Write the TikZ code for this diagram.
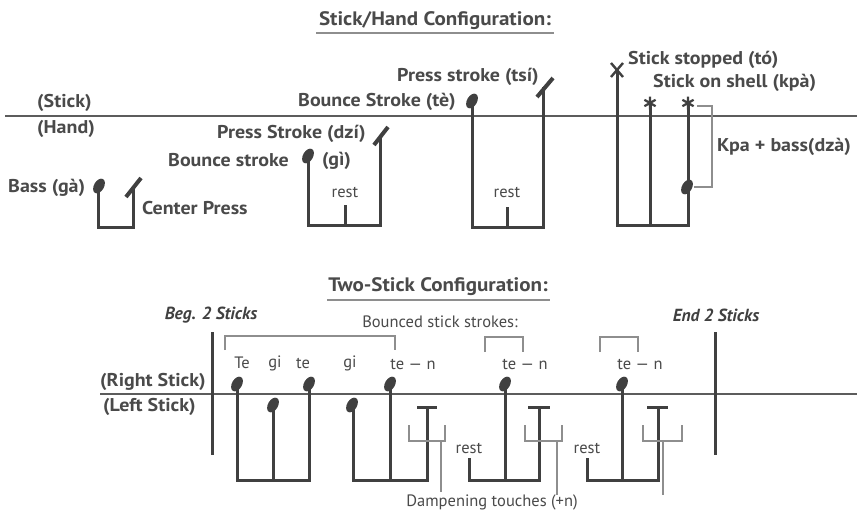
\documentclass[tikz,border=0pt]{standalone}
\usepackage{fontspec}
\setmainfont{PT Sans}
\newfontfamily\lblf{PT Sans}[FakeStretch=1.08]
\definecolor{ink}{HTML}{404040}
\definecolor{txt}{HTML}{4A4A4A}
\definecolor{rulec}{HTML}{5C5C5C}
\definecolor{thinc}{HTML}{8E8E8E}
\newcommand\nhd[1]{\fill[ink, rotate around={-30:#1}] #1 ellipse (5 and 8);}
\newcommand\astk[1]{\draw[ink, line width=2.2pt] #1 ++(0,-6.5) -- ++(0,13) #1 ++(-5.6,-3.2) -- ++(11.2,6.4) #1 ++(-5.6,3.2) -- ++(11.2,-6.4);}
\begin{document}
\begin{tikzpicture}[x=1pt,y=-1pt,
  stem/.style={draw=ink, line width=3pt},
  slash/.style={draw=ink, line width=4pt},
  staff/.style={draw=rulec, line width=2.4pt},
  thinline/.style={draw=thinc, line width=1.2pt},
  lbl/.style={text=txt, font=\fontsize{18.5}{18.5}\selectfont\lblf\bfseries, inner sep=0pt, anchor=west},
  sml/.style={text=txt, font=\fontsize{16.5}{16.5}\selectfont, inner sep=0pt},
  ttl/.style={text=txt, font=\fontsize{19.5}{19.5}\selectfont\lblf\bfseries, inner sep=0pt},
  bi/.style={text=ink, font=\fontsize{17.5}{17.5}\selectfont\bfseries\itshape, inner sep=0pt}]
\useasboundingbox (0,0) rectangle (857,511);
\fill[white] (0,0) rectangle (857,511);

% ---------- top section ----------
\node[ttl] (t1) at (435,21) {Stick/Hand Configuration:};
\draw[thinc, line width=1.6pt] (316,33) -- (554,33);
\draw[staff] (5,116) -- (857,116);
\node[lbl] (stick) at (37,103) {(Stick)};
\node[lbl] (hand) at (37,129) {(Hand)};

% bass / center press
\draw[stem] (98,188) -- (98,227) -- (133,227) -- (133,187);
\nhd{(99,186)}
\draw[slash] (126,197) -- (141,178);
\node[lbl] (bass) at (8,188) {Bass (gà)};
\node[lbl] (cpress) at (142,208) {Center Press};

% gi / dzi
\draw[stem] (308,158) -- (308,225) -- (380,225) -- (380,136);
\draw[stem] (345,225) -- (345,205);
\nhd{(308,156)}
\draw[slash] (374,145) -- (388,127);
\node[sml] (rest1) at (345,192) {rest};
\node[lbl] (bstroke) at (168,160) {Bounce stroke};
\node[lbl] (gi) at (322,161) {(gì)};
\node[lbl] (pstroke) at (217,134) {Press Stroke (dzí)};

% te / tsi
\draw[stem] (472,103) -- (472,227) -- (543,227) -- (543,87);
\draw[stem] (507,227) -- (507,207);
\nhd{(472,101)}
\draw[slash] (537,97) -- (553,78);
\node[sml] (rest2) at (507,192) {rest};
\node[lbl] (bstroke2) at (298,102) {Bounce Stroke (tè)};
\node[lbl] (pstroke2) at (397,77) {Press stroke (tsí)};

% to / kpa
\draw[stem] (617,70) -- (617,225) -- (688,225) -- (688,103);
\draw[stem] (650,103) -- (650,225);
\draw[ink, line width=2.4pt] (611,63) -- (623,77) (611,77) -- (623,63);
\astk{(650,103)}
\astk{(688,103)}
\nhd{(687,187)}
\draw[thinline] (697,106) -- (712,106) -- (712,187) -- (694,187);
\node[lbl] (stopped) at (628,60) {Stick stopped (tó)};
\node[lbl] (shell) at (653,83) {Stick on shell (kpà)};
\node[lbl] (kpabass) at (717,147) {Kpa + bass(dzà)};

% ---------- bottom section ----------
\node[ttl] (t2) at (438,287) {Two-Stick Configuration:};
\draw[thinc, line width=1.6pt] (327,300) -- (550,300);
\node[bi] (beg) at (211,315) {Beg. 2 Sticks};
\node[bi] (end) at (716,315) {End 2 Sticks};
\draw[staff] (100,394) -- (857,394);
\node[lbl] (rs) at (100,382) {(Right Stick)};
\node[lbl] (ls) at (103,407) {(Left Stick)};
\draw[stem] (212,332) -- (212,455);
\draw[stem] (715,332) -- (715,455);

\node[sml] (bounced) at (440,322) {Bounced stick strokes:};
\draw[thinline] (225,350) -- (225,336) -- (395,336) -- (395,350);
\draw[thinline] (485,352) -- (485,337) -- (523,337) -- (523,352);
\draw[thinline] (600,352) -- (600,337) -- (638,337) -- (638,352);

\node[sml] (l1) at (242,363) {Te};
\node[sml] (l2) at (275,363) {gi};
\node[sml] (l3) at (303,363) {te};
\node[sml] (l4) at (350,363) {gi};
\node[sml] (l5) at (413,364) {te — n};
\node[sml] (l6) at (525,364) {te — n};
\node[sml] (l7) at (640,364) {te — n};

% group A
\draw[stem] (237,386) -- (237,480) -- (309,480) -- (309,386);
\draw[stem] (273,407) -- (273,480);
\nhd{(237,384)} \nhd{(309,384)} \nhd{(273,405)}
% group B
\draw[stem] (353,407) -- (353,480) -- (427,480) -- (427,407);
\draw[stem] (390,386) -- (390,480);
\draw[stem] (417,407) -- (437,407);
\nhd{(352,405)} \nhd{(390,384)}
% group C
\draw[stem] (469,458) -- (469,480) -- (539,480) -- (539,407);
\draw[stem] (505,386) -- (505,480);
\draw[stem] (528,407) -- (550,407);
\nhd{(505,384)}
\node[sml] (rest3) at (469,448) {rest};
% group D
\draw[stem] (587,458) -- (587,480) -- (658,480) -- (658,407);
\draw[stem] (622,386) -- (622,480);
\draw[stem] (647,407) -- (668,407);
\nhd{(622,384)}
\node[sml] (rest4) at (587,448) {rest};

% dampening brackets
\draw[thinline] (409,425) -- (409,441) -- (445,441) -- (445,425) (441,441) -- (441,492);
\draw[thinline] (525,425) -- (525,441) -- (562,441) -- (562,425) (557,441) -- (557,495);
\draw[thinline] (643,425) -- (643,441) -- (682,441) -- (682,425) (663,441) -- (663,495);
\node[sml] (damp) at (492,502) {Dampening touches (+n)};
\end{tikzpicture}
\end{document}
